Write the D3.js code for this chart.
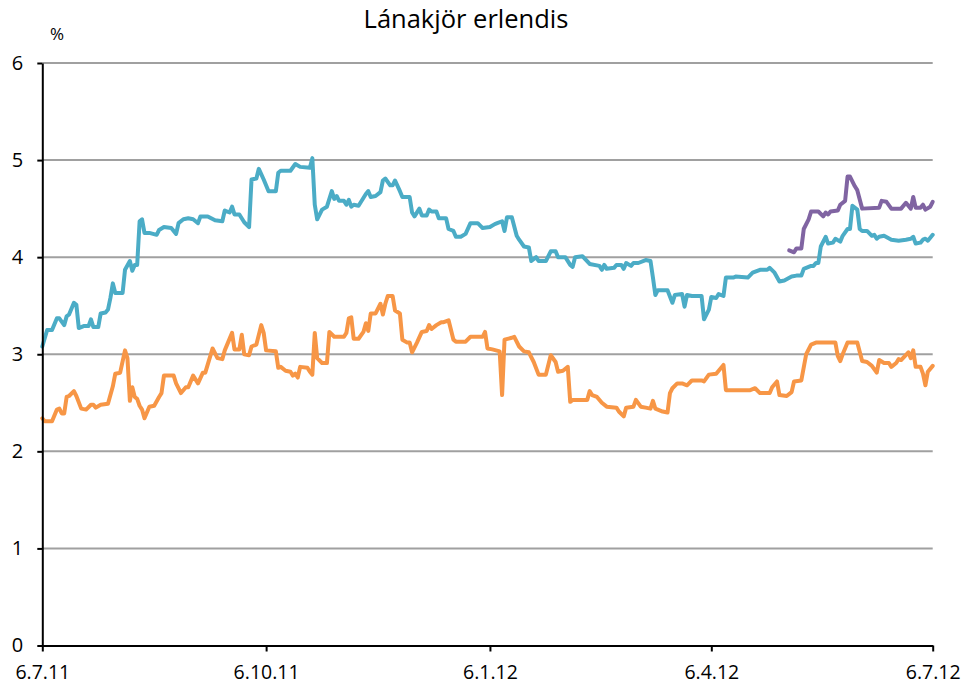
<!DOCTYPE html>
<html>
<head>
<meta charset="utf-8">
<script src="https://cdn.jsdelivr.net/npm/d3@7"></script>
<style>
  body { margin: 0; background: #fff; }
  svg { display: block; font-family: "Open Sans", sans-serif; }
  .grid { stroke: #a0a0a0; stroke-width: 2; }
  .line { fill: none; stroke-width: 4; stroke-linejoin: round; stroke-linecap: round; }
</style>
</head>
<body>
<div id="chart"></div>
<script>
// start date of the series, x values are day offsets from it
const startDate = new Date(2011, 6, 6)
const endDate = new Date(2012, 6, 6)

const tickDates = [new Date(2011, 6, 6), new Date(2011, 9, 6), new Date(2012, 0, 6), new Date(2012, 3, 6), new Date(2012, 6, 6)]
const tickLabels = ["6.7.11", "6.10.11", "6.1.12", "6.4.12", "6.7.12"]
const yTicks = [0, 1, 2, 3, 4, 5, 6]

// teal series
const tealDays = [0, 2, 4, 6, 7, 9, 10, 11, 13, 14, 15, 17, 19, 20, 21, 23, 24, 26, 27, 28, 29, 30, 33, 34, 36, 37, 38, 39,
  40, 41, 42, 44, 47, 48, 50, 53, 55, 56, 58, 60, 62, 64, 65, 68, 71, 74, 75, 77, 78, 79, 81, 83, 85, 86, 88, 89, 91, 93,
  96, 97, 98, 102, 104, 106, 110, 111, 112, 113, 115, 117, 119, 120, 121, 122, 124, 125, 126, 127, 128, 130, 133, 134,
  135, 137, 139, 140, 141, 143, 144, 145, 147, 148, 151, 152, 153, 155, 156, 158, 159, 160, 162, 163, 166, 167, 169,
  170, 172, 174, 176, 179, 181, 184, 186, 187, 189, 190, 191, 193, 195, 196, 198, 200, 201, 203, 204, 207, 209, 211,
  212, 215, 217, 218, 219, 222, 225, 229, 230, 231, 232, 235, 236, 238, 239, 240, 242, 243, 245, 248, 250, 251, 252,
  253, 257, 259, 260, 263, 264, 265, 267, 271, 272, 274, 275, 277, 278, 280, 281, 284, 285, 290, 292, 295, 298, 299,
  301, 303, 305, 308, 310, 312, 313, 314, 316, 317, 318, 319, 320, 322, 323, 325, 326, 328, 329, 331, 332, 333, 335,
  336, 337, 339, 341, 342, 343, 344, 346, 349, 352, 355, 357, 358, 359, 361, 362, 363, 364, 366]
const tealRates = [3.08, 3.25, 3.25, 3.37, 3.37, 3.30, 3.39, 3.41, 3.53, 3.51, 3.27, 3.29, 3.29, 3.36, 3.28, 3.28, 3.42,
  3.43, 3.46, 3.58, 3.73, 3.63, 3.63, 3.87, 3.96, 3.86, 3.92, 3.92, 4.37, 4.39, 4.25, 4.25, 4.23, 4.28, 4.31, 4.30, 4.24,
  4.35, 4.39, 4.40, 4.39, 4.35, 4.42, 4.42, 4.38, 4.37, 4.48, 4.46, 4.52, 4.44, 4.44, 4.36, 4.31, 4.80, 4.81, 4.91, 4.80,
  4.68, 4.68, 4.87, 4.89, 4.89, 4.96, 4.93, 4.92, 5.02, 4.54, 4.39, 4.49, 4.52, 4.68, 4.60, 4.63, 4.58, 4.58, 4.54, 4.59,
  4.52, 4.54, 4.53, 4.65, 4.68, 4.62, 4.63, 4.67, 4.79, 4.81, 4.74, 4.74, 4.79, 4.68, 4.62, 4.62, 4.46, 4.42, 4.50, 4.43,
  4.43, 4.49, 4.47, 4.47, 4.40, 4.40, 4.29, 4.27, 4.21, 4.21, 4.24, 4.35, 4.35, 4.30, 4.31, 4.34, 4.35, 4.37, 4.27, 4.41,
  4.41, 4.22, 4.18, 4.11, 4.10, 3.96, 4.00, 3.96, 3.96, 4.06, 4.06, 4.00, 4.00, 3.92, 3.90, 4.00, 4.01, 3.93, 3.91, 3.87,
  3.92, 3.88, 3.89, 3.92, 3.92, 3.88, 3.94, 3.91, 3.94, 3.94, 3.97, 3.96, 3.79, 3.61, 3.66, 3.66, 3.53, 3.61, 3.62, 3.49,
  3.61, 3.60, 3.60, 3.36, 3.46, 3.59, 3.58, 3.62, 3.60, 3.79, 3.79, 3.80, 3.79, 3.84, 3.87, 3.87, 3.89, 3.84, 3.75, 3.76,
  3.80, 3.81, 3.81, 3.88, 3.89, 3.91, 3.91, 3.94, 3.94, 4.11, 4.21, 4.14, 4.15, 4.19, 4.16, 4.22, 4.29, 4.29, 4.53, 4.49,
  4.29, 4.27, 4.27, 4.22, 4.23, 4.19, 4.21, 4.22, 4.18, 4.17, 4.18, 4.19, 4.21, 4.14, 4.15, 4.18, 4.19, 4.17, 4.23]

// orange series
const orangeDays = [0, 1, 4, 6, 7, 8, 9, 10, 11, 13, 14, 16, 18, 20, 21, 22, 24, 27, 29, 30, 32, 34, 35, 36, 37, 38, 39,
  40, 41, 42, 44, 46, 48, 49, 50, 54, 55, 57, 59, 60, 62, 64, 66, 67, 70, 72, 74, 75, 78, 79, 81, 82, 83, 85, 86, 88, 90,
  91, 92, 96, 97, 98, 100, 102, 103, 104, 105, 106, 109, 110, 111, 112, 113, 115, 117, 118, 120, 124, 125, 126, 127,
  128, 130, 132, 133, 134, 135, 137, 139, 140, 141, 142, 144, 145, 147, 148, 150, 151, 152, 154, 156, 158, 159, 160,
  162, 164, 165, 167, 169, 170, 174, 176, 181, 182, 183, 185, 188, 189, 190, 193, 194, 196, 198, 200, 202, 204, 207,
  209, 211, 212, 214, 216, 217, 218, 224, 225, 226, 228, 230, 232, 236, 237, 239, 240, 243, 244, 246, 248, 250, 251,
  252, 254, 255, 257, 258, 259, 261, 263, 265, 267, 268, 271, 272, 274, 277, 280, 281, 291, 293, 295, 299, 300, 302,
  303, 306, 308, 309, 312, 314, 316, 318, 326, 327, 328, 329, 331, 335, 337, 339, 341, 343, 344, 346, 348, 349, 351,
  352, 353, 356, 357, 358, 359, 361, 362, 363, 364, 366]
const orangeRates = [2.34, 2.31, 2.31, 2.43, 2.44, 2.39, 2.39, 2.56, 2.57, 2.62, 2.57, 2.44, 2.43, 2.48, 2.48, 2.45, 2.48,
  2.49, 2.67, 2.80, 2.81, 3.04, 2.96, 2.52, 2.66, 2.56, 2.54, 2.47, 2.43, 2.34, 2.46, 2.47, 2.56, 2.60, 2.78, 2.78, 2.70,
  2.60, 2.66, 2.66, 2.78, 2.70, 2.81, 2.81, 3.06, 2.96, 2.95, 3.04, 3.22, 3.05, 3.05, 3.20, 3.00, 2.99, 3.08, 3.10, 3.30,
  3.22, 3.04, 3.03, 2.86, 2.87, 2.83, 2.82, 2.78, 2.80, 2.76, 2.87, 2.86, 2.82, 2.79, 3.22, 2.96, 2.91, 2.91, 3.23, 3.18,
  3.18, 3.22, 3.37, 3.38, 3.16, 3.16, 3.23, 3.32, 3.24, 3.42, 3.42, 3.52, 3.41, 3.52, 3.60, 3.60, 3.45, 3.42, 3.15, 3.12,
  3.12, 3.02, 3.12, 3.23, 3.24, 3.30, 3.26, 3.30, 3.33, 3.33, 3.35, 3.15, 3.13, 3.13, 3.18, 3.18, 3.23, 3.06, 3.05, 3.03,
  2.58, 3.15, 3.17, 3.18, 3.08, 3.03, 3.02, 2.92, 2.79, 2.79, 2.99, 2.92, 2.82, 2.83, 2.87, 2.51, 2.53, 2.53, 2.62, 2.58,
  2.56, 2.50, 2.46, 2.45, 2.41, 2.36, 2.45, 2.46, 2.53, 2.46, 2.45, 2.44, 2.52, 2.44, 2.42, 2.41, 2.40, 2.60, 2.65, 2.70,
  2.70, 2.68, 2.73, 2.73, 2.73, 2.72, 2.79, 2.80, 2.89, 2.63, 2.63, 2.65, 2.60, 2.60, 2.66, 2.72, 2.58, 2.57, 2.61, 2.72,
  2.73, 3.00, 3.10, 3.12, 3.12, 2.98, 2.93, 3.00, 3.12, 3.12, 2.93, 2.92, 2.88, 2.81, 2.94, 2.91, 2.91, 2.87, 2.91, 2.95,
  2.94, 3.02, 2.96, 3.04, 2.87, 2.87, 2.80, 2.68, 2.82, 2.88]

// purple series
const purpleDays = [307, 309, 310, 312, 313, 315, 316, 319, 321, 322, 323, 324, 327, 328, 330, 331, 332, 334, 335, 337,
  344, 345, 347, 349, 353, 355, 357, 358, 359, 361, 362, 363, 365, 366]
const purpleRates = [4.07, 4.05, 4.09, 4.09, 4.29, 4.39, 4.47, 4.47, 4.42, 4.46, 4.44, 4.47, 4.48, 4.54, 4.58, 4.83, 4.83,
  4.73, 4.69, 4.50, 4.51, 4.58, 4.57, 4.50, 4.50, 4.56, 4.50, 4.62, 4.51, 4.51, 4.54, 4.49, 4.52, 4.57]

const seriesList = [
  { days: tealDays, rates: tealRates, color: "#4bacc6" },
  { days: orangeDays, rates: orangeRates, color: "#f79646" },
  { days: purpleDays, rates: purpleRates, color: "#8064a2" }
]

const width = 965, height = 685
const margin = { top: 63, right: 32.3, bottom: 39.5, left: 42.3 }

const svg = d3.select("#chart").append("svg")
  .attr("width", width)
  .attr("height", height)

// set the ranges
const x = d3.scaleTime().domain([startDate, endDate]).range([margin.left, width - margin.right])
const y = d3.scaleLinear().domain([0, 6]).range([height - margin.bottom, margin.top])

// gridlines
svg.append("g").selectAll("line")
  .data(yTicks.filter(d => d > 0))
  .join("line")
  .attr("class", "grid")
  .attr("x1", x.range()[0])
  .attr("x2", x.range()[1])
  .attr("y1", d => y(d))
  .attr("y2", d => y(d))

// define the line
const valueline = d3.line()
  .x(d => x(d3.timeDay.offset(startDate, d[0])))
  .y(d => y(d[1]))

for (const s of seriesList) {
  svg.append("path")
    .datum(d3.zip(s.days, s.rates))
    .attr("class", "line")
    .attr("stroke", s.color)
    .attr("d", valueline)
}

// Add the X Axis
const xAxis = svg.append("g")
  .attr("transform", "translate(0," + y(0) + ")")
  .call(d3.axisBottom(x).tickValues(tickDates).tickFormat((d, i) => tickLabels[i]).tickSize(6).tickSizeOuter(0).tickPadding(14))
xAxis.selectAll("text").attr("font-size", 19.5).attr("fill", "#000").attr("font-family", "Open Sans, sans-serif")

// Add the Y Axis
const yAxis = svg.append("g")
  .attr("transform", "translate(" + x.range()[0] + ",0)")
  .call(d3.axisLeft(y).tickValues(yTicks).tickFormat(d3.format("d")).tickSize(5).tickSizeOuter(0).tickPadding(14))
yAxis.selectAll("text").attr("font-size", 20).attr("fill", "#000").attr("font-family", "Open Sans, sans-serif")

svg.selectAll(".domain, .tick line").attr("stroke", "#000").attr("stroke-width", 2)

// unit label
svg.append("text")
  .attr("x", 57)
  .attr("y", 40)
  .attr("text-anchor", "middle")
  .attr("font-size", 17)
  .text("%")

// title
svg.append("text")
  .attr("x", 466)
  .attr("y", 28)
  .attr("text-anchor", "middle")
  .attr("font-size", 25.5)
  .text("Lánakjör erlendis")
</script>
</body>
</html>
